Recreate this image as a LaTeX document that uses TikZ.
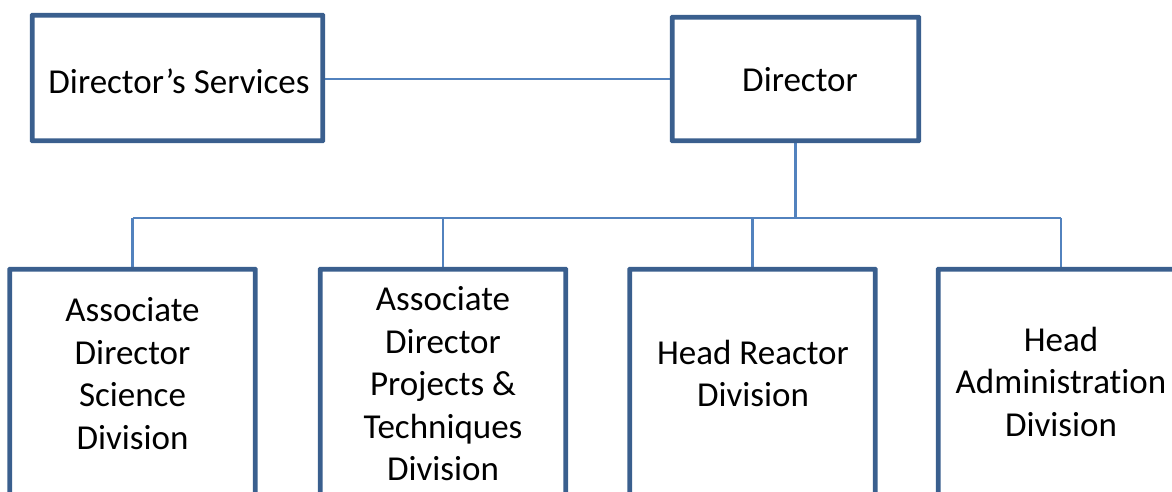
\documentclass[tikz,border=0pt]{standalone}
\usepackage{fontspec}
\setmainfont[Ligatures={NoCommon}]{Carlito}
\definecolor{boxline}{HTML}{3A5F8E}
\definecolor{conn}{HTML}{5282BE}
\tikzset{
  orgbox/.style={draw=boxline, line width=3.2pt, fill=white, rectangle, inner sep=0pt, rounded corners=0.8pt},
  lbl/.style={font=\fontsize{35}{42.5}\selectfont, align=center, inner sep=0pt, text=black},
  link/.style={draw=conn, line width=2.2pt}
}
\begin{document}
\begin{tikzpicture}[x=1pt,y=-1pt]
\useasboundingbox (0,0) rectangle (1172,491);
\clip (0,0) rectangle (1172,491);
\node[orgbox, minimum width=289pt, minimum height=124pt] (ds) at (177.5,78) {};
\node[orgbox, minimum width=245pt, minimum height=122pt] (dir) at (795.5,79) {};
\node[orgbox, minimum width=244pt, minimum height=300pt] (b1) at (132.5,420) {};
\node[orgbox, minimum width=244pt, minimum height=300pt] (b2) at (443,420) {};
\node[orgbox, minimum width=244pt, minimum height=300pt] (b3) at (752.5,420) {};
\node[orgbox, minimum width=244pt, minimum height=300pt] (b4) at (1061,420) {};
\coordinate (bus) at (0,218);
\draw[link] (ds.east |- dir.west) -- (dir.west);
\draw[link] (dir.south) -- (dir.south |- bus);
\draw[link] (b1.north |- bus) -- (b4.north |- bus);
\draw[link] (b1.north |- bus) -- (b1.north);
\draw[link] (b2.north |- bus) -- (b2.north);
\draw[link] (b3.north |- bus) -- (b3.north);
\draw[link] (b4.north |- bus) -- (b4.north);
\foreach \n in {ds,dir,b1,b2,b3,b4}{
  \draw[draw=boxline, line width=3.2pt, rounded corners=0.8pt] (\n.south west) rectangle (\n.north east);
}
\node[lbl] (tds) at (179,81) {Director’s Services};
\node[lbl] (tdir) at (800,80) {Director};
\node[lbl] (t1) at (132.5,373.5) {Associate\\Director\\Science\\Division};
\node[lbl] (t2) at (443,384) {Associate\\Director\\Projects \&\\Techniques\\Division};
\node[lbl] (t3) at (753,373.5) {Head Reactor\\Division};
\node[lbl] (t4) at (1061,381.5) {Head\\Administration\\Division};
\end{tikzpicture}
\end{document}
